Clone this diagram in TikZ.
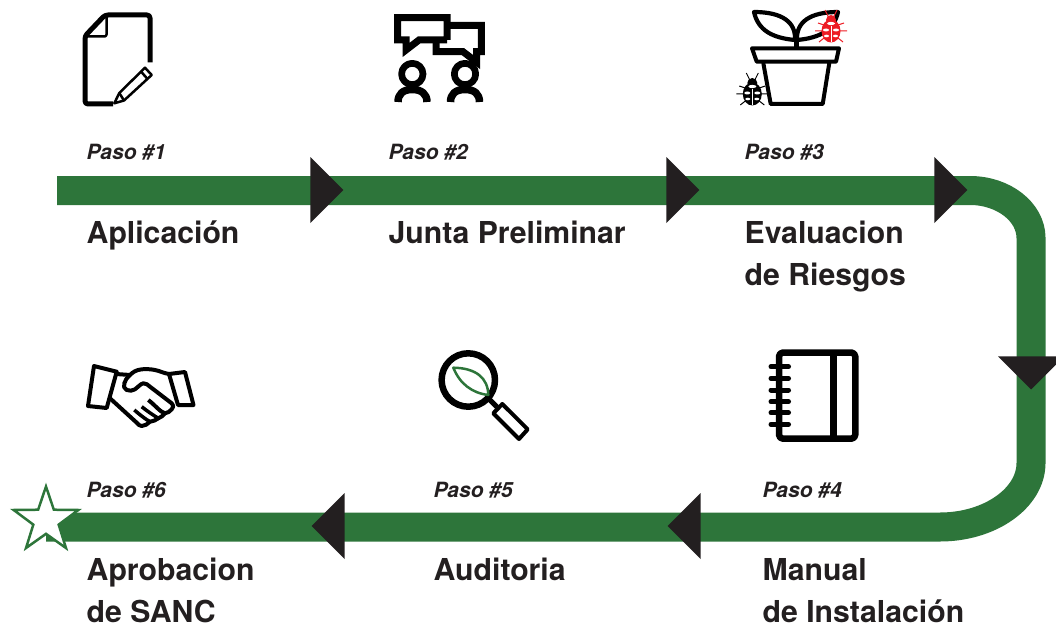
\documentclass[tikz,border=0pt]{standalone}
\usepackage{fontspec}
\setmainfont{TeX Gyre Heros}
\usepackage{tikz}
\usetikzlibrary{shapes.geometric}
\definecolor{pistagreen}{RGB}{45,117,58}
\definecolor{flechablack}{RGB}{35,31,32}
\definecolor{bichored}{RGB}{237,28,36}

\tikzset{
    pista/.style={line width=29pt, draw=pistagreen},
    flecha/.style={isosceles triangle, isosceles triangle stretches, fill=flechablack,
        inner sep=0pt, minimum height=33pt, minimum width=66pt, anchor=apex},
    paso/.style={anchor=base west, inner sep=0pt, font=\fontsize{21}{24}\selectfont\bfseries\itshape, text=flechablack},
    titulo/.style={anchor=base west, inner sep=0pt, align=left, font=\fontsize{30.2}{42}\selectfont\bfseries, text=flechablack},
    icono/.style={draw=black, line width=5pt, line join=round},
    fino/.style={draw=black, line width=2.5pt, line join=round},
}

% one small beetle, #1 = centre, #2 = colour
\newcommand{\bicho}[2]{
    \begin{scope}[shift={(#1)}]
        \draw[#2, line width=1pt] (-2,-11) -- (-6,-19) (2,-11) -- (6,-19);
        \draw[#2, line width=1pt] (-7,-4) -- (-13,-6) (7,-4) -- (13,-6)
            (-8,2) -- (-16,2) (8,2) -- (16,2) (-7,9) -- (-12,13) (7,9) -- (12,13);
        \fill[#2] (0,-9) circle[radius=5];
        \fill[#2] (0,2) ellipse[x radius=9.5, y radius=11.5];
        \fill[white] (0,-5.5) ellipse[x radius=4, y radius=1.6];
        \fill[white] (-5,1) ellipse[x radius=3, y radius=1.5] (5,1) ellipse[x radius=3, y radius=1.5];
        \fill[white] (-4.5,7) ellipse[x radius=2.5, y radius=1.3] (4.5,7) ellipse[x radius=2.5, y radius=1.3];
        \draw[white, line width=0.7pt] (0,-3) -- (0,13);
    \end{scope}
}

\begin{document}
\begin{tikzpicture}[x=1pt, y=-1pt]
    \useasboundingbox (0,0) rectangle (1056,623);

    % Track
    \coordinate (inicio) at (57,190.5);
    \coordinate (curva1) at (970,190.5);
    \coordinate (curva2) at (1031,238);
    \coordinate (curva3) at (1031,463);
    \coordinate (curva4) at (940,527);
    \coordinate (fin) at (46,527);
    \draw[pista] (inicio) -- (curva1) .. controls (1003.5,190.5) and (1031,212) .. (curva2)
        -- (curva3) .. controls (1031,498) and (990,527) .. (curva4) -- (fin);

    % Arrow heads
    \node[flecha] (flecha1) at (344,190) {};
    \node[flecha] (flecha2) at (700,190) {};
    \node[flecha] (flecha3) at (968,190) {};
    \node[flecha, shape border rotate=-90] (flecha4) at (1031,390) {};
    \node[flecha, shape border rotate=180] (flecha5) at (667,526) {};
    \node[flecha, shape border rotate=180] (flecha6) at (311,526) {};

    % Star
    \node[star, star points=5, star point ratio=2.55, draw=pistagreen, fill=white, line width=2.5pt,
        inner sep=0pt, minimum size=68pt] (estrella) at (46,520.5) {};

    % Top row labels
    \node[paso] (paso1) at (86.5,159) {Paso \#1};
    \node[paso] (paso2) at (388.5,159) {Paso \#2};
    \node[paso] (paso3) at (744.5,159) {Paso \#3};
    \node[titulo] (titulo1) at (86.5,243) {Aplicación};
    \node[titulo] (titulo2) at (388.5,243) {Junta Preliminar};
    \node[titulo] (titulo3) at (744.5,285) {Evaluacion\\de Riesgos};

    % Bottom row labels
    \node[paso] (paso4) at (762.5,497) {Paso \#4};
    \node[paso] (paso5) at (433.5,497) {Paso \#5};
    \node[paso] (paso6) at (86.5,497) {Paso \#6};
    \node[titulo] (titulo4) at (762.5,622) {Manual\\de Instalación};
    \node[titulo] (titulo5) at (433.5,580.5) {Auditoria};
    \node[titulo] (titulo6) at (86.5,622) {Aprobacion\\de SANC};

    % Document and pencil
    \draw[icono, rounded corners=3pt] (150,62.5) -- (150,15) -- (105,15) -- (85,36) -- (85,104) -- (113,104);
    \draw[fino, rounded corners=2pt] (106.5,16) -- (106.5,36.5) -- (86,36.5);
    \draw[fino] (114.3,103.3) -- (119.3,93) -- (145,67.7) -- (151.7,75) -- (124,100.5) -- cycle;
    \draw[fino] (119.3,93) -- (124,100.5) (141,71.5) -- (147.5,79);

    % Speech bubbles and people
    \draw[icono, line width=7pt, line join=miter] (447,40) -- (447,17.7) -- (397.7,17.7) -- (397.7,40) -- (406,40) -- (406,50) -- (419,40) -- (447,40);
    \draw[icono, line width=7pt, line join=miter] (447,25.3) -- (481.3,25.3) -- (481.3,51.7) -- (476.5,51.7) -- (476.5,62) -- (463,51.7) -- (436,51.7) -- (436,40);
    \draw[icono, line width=6.7pt, fill=white] (412.3,74) circle[radius=10.7];
    \draw[icono, line width=6.7pt, fill=white] (465,74) circle[radius=10.7];
    \draw[icono, line width=7.5pt] (398,102) .. controls (398,94) and (403,89.5) .. (412.3,89.5) .. controls (421.5,89.5) and (427,94) .. (427,102);
    \draw[icono, line width=7.5pt] (450.5,102) .. controls (450.5,94) and (455.5,89.5) .. (465,89.5) .. controls (474.5,89.5) and (479.5,94) .. (479.5,102);

    % Plant pot
    \draw[icono, line width=4pt] (752,48.3) -- (839,48.3) -- (836,61.7) -- (756.7,61.7) -- cycle;
    \draw[icono, line width=4pt] (763.3,63) -- (770.7,104) -- (822.7,104) -- (829.3,63);
    \draw[icono, line width=5pt] (796,47) -- (796,38);
    \draw[icono, line width=4.2pt] (754,12) .. controls (782,12) and (796,22) .. (795,40) .. controls (772,38) and (758,30) .. (754,12) -- cycle;
    \draw[icono, line width=4.2pt] (838,12) .. controls (810,12) and (796,22) .. (797,40) .. controls (820,38) and (834,30) .. (838,12) -- cycle;
    \bicho{831,29}{bichored}
    \bicho{752.3,92}{black}

    % Handshake
    \draw[icono, line width=4pt] (94,366) -- (116.7,371.7) -- (106.7,408) -- (88,406) -- cycle;
    \draw[icono, line width=4pt] (169,374) -- (185,372) -- (193.5,405) -- (178,405) -- cycle;
    \draw[icono, line width=4pt] (169,374) .. controls (163,373) and (160,371) .. (155,370) .. controls (150,369) and (146,369) .. (141.7,369.3) .. controls (136,370) and (133,372) .. (130,375)
        .. controls (127,378) and (125,380) .. (124.3,383.3) .. controls (123.5,386) and (124,389) .. (126.7,390) .. controls (130,391) and (132,391) .. (135,389.3)
        .. controls (138,387.5) and (140,384) .. (143.3,383.3) .. controls (146,383) and (148,385) .. (150,386.7) -- (171.7,403.3)
        .. controls (174,406) and (173,408) .. (171.7,409.3) .. controls (170,411.5) and (167.5,413) .. (165,413.3) .. controls (160,412) and (155,405) .. (148.3,400);
    \draw[icono, line width=4pt] (116,374) -- (130,375);
    \draw[icono, line width=4pt] (110,398.3) -- (136.7,422.7) .. controls (138,424.5) and (140,426) .. (141.7,426) .. controls (145,426) and (147.5,424) .. (150,421.7) .. controls (153,421.5) and (156,420) .. (158.3,418.3) .. controls (161,417.5) and (163,415.5) .. (165,413.3);
    \draw[icono, line width=3.5pt] (158.3,418.3) .. controls (153,415) and (147,411) .. (141.7,406.7);
    \draw[icono, line width=3.5pt] (150,421.7) .. controls (145,419) and (139,414) .. (134.3,410);

    % Magnifying glass
    \draw[icono, line width=6.5pt] (468.3,380) circle[radius=26.7];
    \draw[draw=pistagreen, line width=2.5pt, line join=round] (453.3,367.7) .. controls (476,368) and (488,378) .. (488.3,395) .. controls (472,393) and (460,384) .. (453.3,367.7) -- cycle;
    \draw[icono] (489,399) -- (497,407);
    \draw[icono, line width=4pt] (502.3,404) -- (527.7,429.3) -- (519,439) -- (493.3,413.3) -- cycle;

    % Notebook
    \draw[icono, line width=6.5pt, rounded corners=4pt] (779,352.5) rectangle (855.3,438.7);
    \draw[icono, line width=7pt] (833.7,352.5) -- (833.7,438.7);
    \foreach \y in {366.7,378.3,390,401.7,412.7,424.3}
        \draw[icono, line width=5pt, line cap=round] (771,\y) -- (788.5,\y);
\end{tikzpicture}
\end{document}
